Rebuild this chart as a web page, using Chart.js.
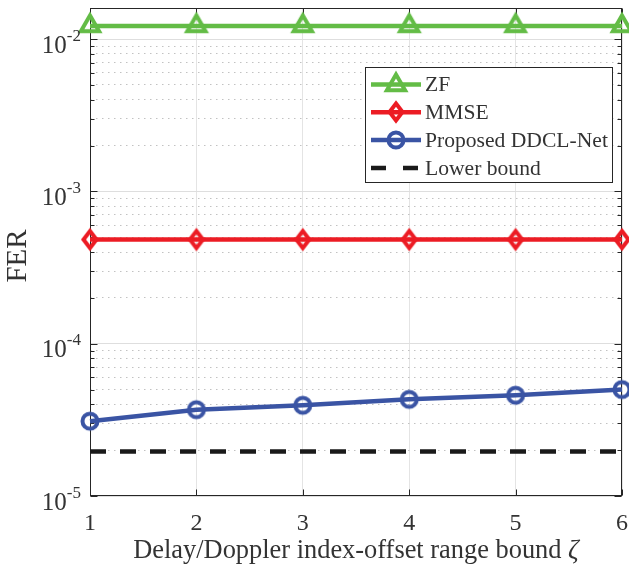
<!DOCTYPE html>
<html>
<head>
<meta charset="utf-8">
<script src="https://cdn.jsdelivr.net/npm/chart.js@4.4.0/dist/chart.umd.min.js"></script>
<style>
  html, body { margin: 0; padding: 0; background: #fff; }
  #wrap { width: 629px; height: 569px; }
</style>
</head>
<body>
<div id="wrap"><canvas id="myChart" width="629" height="569"></canvas></div>
<script>
// values
const bounds = [1, 2, 3, 4, 5, 6];
const zfFER = [1.22e-2, 1.22e-2, 1.22e-2, 1.22e-2, 1.22e-2, 1.22e-2];
const mmseFER = [4.83e-4, 4.83e-4, 4.83e-4, 4.83e-4, 4.83e-4, 4.83e-4];
const proposedFER = [3.10e-5, 3.69e-5, 3.94e-5, 4.31e-5, 4.59e-5, 5.00e-5];
const lowerBoundFER = [1.96e-5, 1.96e-5, 1.96e-5, 1.96e-5, 1.96e-5, 1.96e-5];
const seriesLabels = ['ZF', 'MMSE', 'Proposed DDCL-Net', 'Lower bound'];
const xTickLabels = ['1', '2', '3', '4', '5', '6'];
const yDecades = [-5, -4, -3, -2];
const yMantissas = [1, 2, 3, 4, 5, 6, 7, 8, 9];
const yMin = 1e-5, yMax = 1.6e-2;

const SERIF = '"Liberation Serif", "Times New Roman", serif';
const AXIS_COLOR = '#262626';
const TEXT_COLOR = '#333333';

function isDecade(v) {
  const l = Math.log10(v);
  return Math.abs(l - Math.round(l)) < 1e-6;
}

// MATLAB-ish open markers as small canvases
function makeMarker(shape, color) {
  const c = document.createElement('canvas');
  c.width = 34; c.height = 34;
  const g = c.getContext('2d');
  g.strokeStyle = color;
  g.lineWidth = 4;
  g.lineJoin = 'miter';
  g.translate(17, 17);
  g.beginPath();
  if (shape === 'triangle') {
    g.moveTo(0, -10.5); g.lineTo(9.1, 5.25); g.lineTo(-9.1, 5.25); g.closePath();
  } else if (shape === 'diamond') {
    g.moveTo(0, -8.5); g.lineTo(6.5, 0); g.lineTo(0, 8.5); g.lineTo(-6.5, 0); g.closePath();
  } else {
    g.arc(0, 0, 7.5, 0, Math.PI * 2);
  }
  g.stroke();
  return c;
}

const GREEN = '#63BC46', RED = '#EC1C24', BLUE = '#3A54A4', BLACK = '#1a1a1a';
const markers = [makeMarker('triangle', GREEN), makeMarker('diamond', RED), makeMarker('circle', BLUE), null];

function toPoints(ys) {
  return bounds.map((x, i) => ({ x: x, y: ys[i] }));
}

function lineSet(label, ys, color, marker, dash) {
  return {
    label: label,
    data: toPoints(ys),
    borderColor: color,
    backgroundColor: color,
    borderWidth: dash ? 4.5 : 4.5,
    borderDash: dash || [],
    pointStyle: marker || 'circle',
    pointRadius: marker ? 8 : 0,
    pointHoverRadius: marker ? 8 : 0,
    tension: 0,
    clip: false
  };
}

const datasets = [
  lineSet(seriesLabels[0], zfFER, GREEN, markers[0]),
  lineSet(seriesLabels[1], mmseFER, RED, markers[1]),
  lineSet(seriesLabels[2], proposedFER, BLUE, markers[2]),
  lineSet(seriesLabels[3], lowerBoundFER, BLACK, null, [16, 14])
];

function hline(ctx, x1, y1, x2, y2) {
  ctx.beginPath(); ctx.moveTo(x1, y1); ctx.lineTo(x2, y2); ctx.stroke();
}

const matlabAxes = {
  id: 'matlabAxes',
  beforeDatasetsDraw(chart) {
    const { ctx, chartArea: a, scales: { x, y } } = chart;
    ctx.save();
    ctx.strokeStyle = AXIS_COLOR;
    ctx.lineWidth = 1;
    const L = Math.round(a.left) + 0.5, R = Math.round(a.right) - 0.5;
    const T = Math.round(a.top) + 0.5, B = Math.round(a.bottom) - 0.5;
    ctx.strokeRect(L, T, R - L, B - T);
    // inward ticks
    y.ticks.forEach(t => {
      const py = Math.round(y.getPixelForValue(t.value)) + 0.5;
      const len = isDecade(t.value) ? 7 : 4;
      hline(ctx, L, py, L + len, py);
      hline(ctx, R, py, R - len, py);
    });
    x.ticks.forEach(t => {
      const px = Math.round(x.getPixelForValue(t.value)) + 0.5;
      hline(ctx, px, B, px, B - 6);
      hline(ctx, px, T, px, T + 6);
    });
    ctx.restore();
  },
  afterDraw(chart) {
    const { ctx, chartArea: a, scales: { x, y } } = chart;
    ctx.save();
    ctx.fillStyle = TEXT_COLOR;

    // x tick labels
    ctx.font = '24px ' + SERIF;
    ctx.textAlign = 'center';
    ctx.textBaseline = 'alphabetic';
    x.ticks.forEach((t, i) => {
      ctx.fillText(xTickLabels[i], x.getPixelForValue(t.value), 530);
    });

    // y tick labels 10^n
    yDecades.forEach(d => {
      const py = y.getPixelForValue(Math.pow(10, d));
      const sup = String(d);
      ctx.font = '17px ' + SERIF;
      const ws = ctx.measureText(sup).width;
      ctx.textAlign = 'left';
      ctx.fillText(sup, 81 - ws, py + 1.5);
      ctx.font = '25px ' + SERIF;
      ctx.textAlign = 'right';
      ctx.fillText('10', 81 - ws, py + 13.5);
    });

    // x title
    const main = 'Delay/Doppler index-offset range bound ';
    ctx.font = '26.4px ' + SERIF;
    const w1 = ctx.measureText(main).width;
    ctx.font = 'italic 26.4px ' + SERIF;
    const w2 = ctx.measureText('\u03B6').width;
    const sx = (a.left + a.right) / 2 - (w1 + w2) / 2;
    ctx.textAlign = 'left';
    ctx.font = '26.4px ' + SERIF;
    ctx.fillText(main, sx, 558);
    ctx.font = 'italic 26.4px ' + SERIF;
    ctx.fillText('\u03B6', sx + w1, 558);

    // y title
    ctx.save();
    ctx.translate(18, 256);
    ctx.rotate(-Math.PI / 2);
    ctx.font = '29px ' + SERIF;
    ctx.textAlign = 'center';
    ctx.textBaseline = 'middle';
    ctx.fillText('FER', 0, 0);
    ctx.restore();

    // legend
    const bx = 365.5, by = 67.5, bw = 247, bh = 115;
    ctx.fillStyle = '#ffffff';
    ctx.fillRect(bx, by, bw, bh);
    ctx.strokeStyle = AXIS_COLOR;
    ctx.lineWidth = 1;
    ctx.strokeRect(bx, by, bw, bh);
    chart.data.datasets.forEach((ds, i) => {
      const ry = 84.5 + i * 27.8;
      ctx.save();
      ctx.strokeStyle = ds.borderColor;
      ctx.lineWidth = ds.borderWidth;
      ctx.setLineDash(ds.borderDash.length ? [15, 17] : []);
      hline(ctx, 371, ry, ds.borderDash.length ? 420 : 421, ry);
      ctx.restore();
      if (ds.pointRadius > 0) {
        ctx.drawImage(ds.pointStyle, 396 - 17, Math.round(ry) - 17);
      }
      ctx.fillStyle = TEXT_COLOR;
      ctx.font = '21.6px ' + SERIF;
      ctx.textAlign = 'left';
      ctx.textBaseline = 'middle';
      ctx.fillText(ds.label, 425, ry + 1);
    });
    ctx.restore();
  }
};

new Chart(document.getElementById('myChart').getContext('2d'), {
  type: 'line',
  data: { datasets: datasets },
  options: {
    responsive: false,
    animation: false,
    events: [],
    layout: { autoPadding: false, padding: { left: 90, right: 7, top: 8, bottom: 73 } },
    plugins: { legend: { display: false }, tooltip: { enabled: false } },
    scales: {
      x: {
        type: 'linear',
        min: 1,
        max: 6,
        ticks: { display: false, stepSize: 1 },
        grid: { color: '#e4e4e4', lineWidth: 1, drawTicks: false },
        border: { display: false }
      },
      y: {
        type: 'logarithmic',
        min: yMin,
        max: yMax,
        afterBuildTicks(scale) {
          const ticks = [];
          yDecades.forEach(d => yMantissas.forEach(m => {
            const v = m * Math.pow(10, d);
            if (v >= yMin * 0.999 && v <= yMax) ticks.push({ value: v });
          }));
          scale.ticks = ticks;
        },
        ticks: { display: false },
        grid: {
          drawTicks: false,
          lineWidth: 1,
          color: c => (c.tick && !isDecade(c.tick.value)) ? '#c2c2c2' : '#dedede'
        },
        border: {
          display: false,
          dash: c => (c.tick && !isDecade(c.tick.value)) ? [1.5, 4.5] : []
        }
      }
    }
  },
  plugins: [matlabAxes]
});
</script>
</body>
</html>
